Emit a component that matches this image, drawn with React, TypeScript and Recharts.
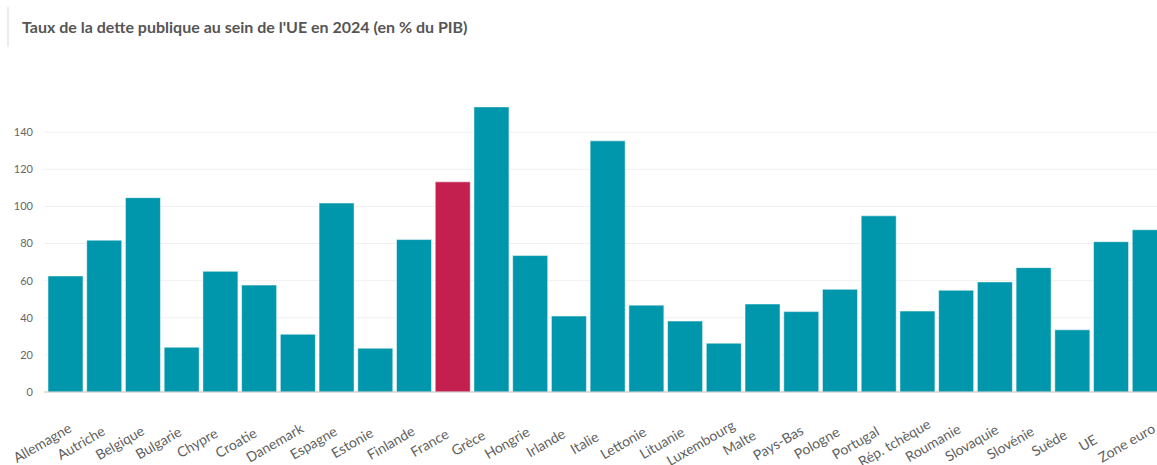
import React from "react";
import { BarChart, Bar, XAxis, YAxis, CartesianGrid, Cell } from "recharts";

const countries = [
  "Allemagne", "Autriche", "Belgique", "Bulgarie", "Chypre", "Croatie", "Danemark",
  "Espagne", "Estonie", "Finlande", "France", "Grèce", "Hongrie", "Irlande", "Italie",
  "Lettonie", "Lituanie", "Luxembourg", "Malte", "Pays-Bas", "Pologne", "Portugal",
  "Rép. tchèque", "Roumanie", "Slovaquie", "Slovénie", "Suède", "UE", "Zone euro",
];
const debtRatio = [
  62.5, 81.8, 104.7, 24.1, 65.0, 57.6, 31.1, 101.8, 23.6, 82.1, 113.2, 153.6, 73.5,
  40.9, 135.3, 46.8, 38.2, 26.3, 47.4, 43.3, 55.3, 94.9, 43.6, 54.8, 59.3, 67.0, 33.5,
  81.0, 87.4,
];
const yTicks = [0, 20, 40, 60, 80, 100, 120, 140];
const highlighted = "France";

const data = countries.map((c, i) => ({ name: c, value: debtRatio[i] }));

const TEAL = "#0096AB";
const RED = "#C4204F";

const XTick = (props: any) => {
  const { x, y, payload } = props;
  return (
    <g transform={`translate(${x - 23},${y + 43})`}>
      <text
        x={0}
        y={0}
        dy="0.35em"
        textAnchor="middle"
        transform="rotate(-30)"
        fill="#5f5f5f"
        fontSize={14}
        fontFamily="Lato, sans-serif"
      >
        {payload.value}
      </text>
    </g>
  );
};

export default function App() {
  return (
    <div
      style={{
        position: "fixed",
        left: 0,
        top: 0,
        width: 1157,
        height: 465,
        overflow: "hidden",
        background: "#ffffff",
      }}
    >
      <div
        style={{
          position: "absolute",
          left: 7,
          top: 7,
          width: 2,
          height: 40,
          background: "#ececec",
        }}
      />
      <div
        style={{
          position: "absolute",
          left: 22,
          top: 17,
          fontFamily: "Lato, sans-serif",
          fontWeight: 700,
          fontSize: 16,
          color: "#555555",
          whiteSpace: "nowrap",
          lineHeight: "20px",
        }}
      >
        Taux de la dette publique au sein de l'UE en 2024 (en % du PIB)
      </div>
      <div style={{ position: "absolute", left: 0, top: 0 }}>
        <BarChart
          width={1169}
          height={465}
          data={data}
          margin={{ top: 95, right: 0, bottom: 0, left: 0 }}
        >
          <CartesianGrid vertical={false} stroke="#f0f0f0" horizontalValues={yTicks.slice(1)} />
          <XAxis
            dataKey="name"
            interval={0}
            height={73}
            tickLine={false}
            axisLine={{ stroke: "#bfbfbf" }}
            tick={<XTick />}
            padding={{ left: 2, right: 0 }}
          />
          <YAxis
            width={44}
            domain={[0, 160]}
            ticks={yTicks}
            axisLine={false}
            tickLine={false}
            tickMargin={5}
            tick={{ fill: "#666666", fontSize: 11, fontFamily: "Lato, sans-serif" }}
          />
          <Bar dataKey="value" barSize={35} stroke="#ffffff" strokeWidth={0.5} isAnimationActive={false}>
            {data.map((d) => (
              <Cell key={d.name} fill={d.name === highlighted ? RED : TEAL} />
            ))}
          </Bar>
        </BarChart>
      </div>
    </div>
  );
}
